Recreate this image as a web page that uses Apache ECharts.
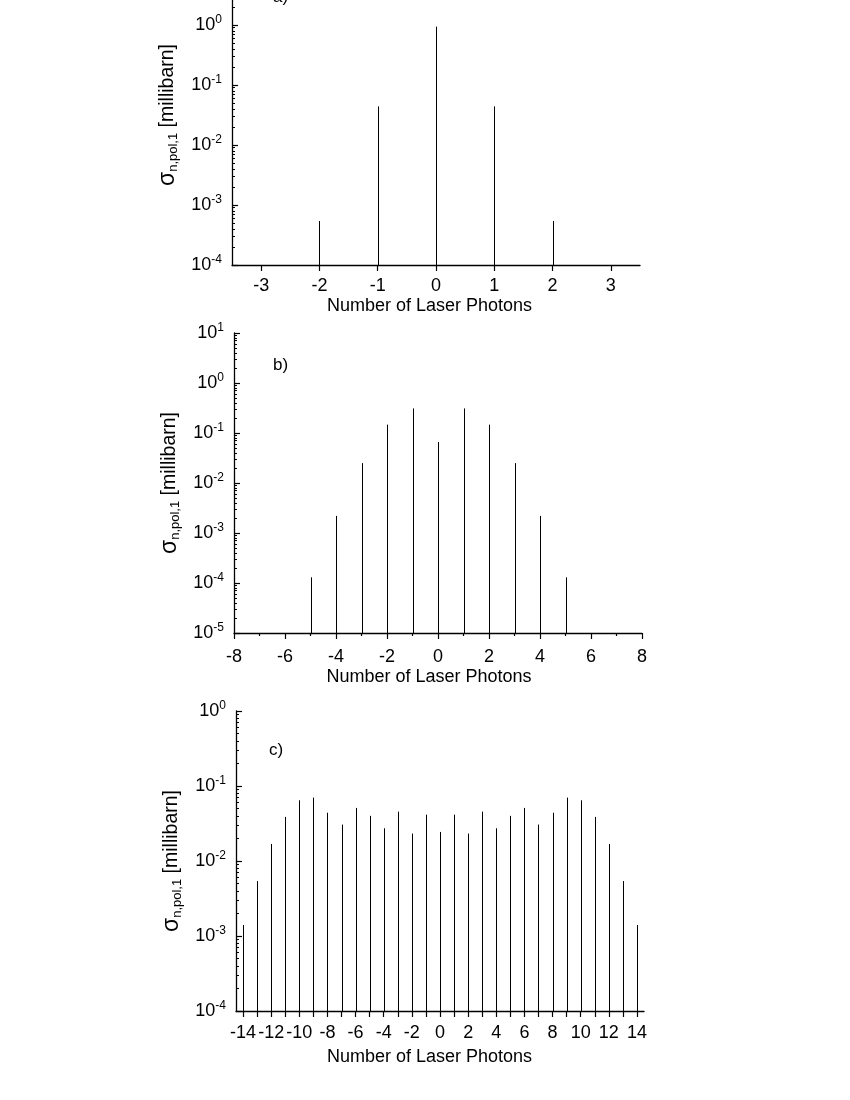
<!DOCTYPE html>
<html>
<head>
<meta charset="utf-8">
<script src="https://cdn.jsdelivr.net/npm/echarts@6/dist/echarts.min.js"></script>
<style>
  html, body { margin: 0; padding: 0; background: #fff; }
  #main { width: 850px; height: 1100px; }
</style>
</head>
<body>
<div id="main"></div>
<script>
// panel a)
var photonsA = [-2, -1, 0, 1, 2];
var sigmaA = [5.4e-4, 0.044, 0.94, 0.044, 5.4e-4];
var ticksA = [-3, -2, -1, 0, 1, 2, 3];

// panel b)
var photonsB = [-5, -4, -3, -2, -1, 0, 1, 2, 3, 4, 5];
var sigmaB = [1.3e-4, 2.2e-3, 0.025, 0.147, 0.31, 0.066, 0.31, 0.147, 0.025, 2.2e-3, 1.3e-4];

// panel c)
var photonsC = [-14, -13, -12, -11, -10, -9, -8, -7, -6, -5, -4, -3, -2, -1, 0,
                1, 2, 3, 4, 5, 6, 7, 8, 9, 10, 11, 12, 13, 14];
var sigmaC = [1.4e-3, 5.4e-3, 0.0169, 0.0387, 0.0645, 0.070, 0.044, 0.0306, 0.051, 0.040, 0.0273, 0.0455, 0.0232, 0.0415, 0.0244,
              0.0415, 0.0232, 0.0455, 0.0273, 0.040, 0.051, 0.0306, 0.044, 0.070, 0.0645, 0.0387, 0.0169, 0.0054, 1.4e-3];
var ticksC = [-14, -13, -12, -11, -10, -9, -8, -7, -6, -5, -4, -3, -2, -1, 0,
              1, 2, 3, 4, 5, 6, 7, 8, 9, 10, 11, 12, 13, 14];
var labelsC = [-14, -12, -10, -8, -6, -4, -2, 0, 2, 4, 6, 8, 10, 12, 14];

var yRanges = [[1e-4, 10], [1e-5, 10], [1e-4, 1]];

var FONT = 'Liberation Sans, Arial, sans-serif';
var myChart = echarts.init(document.getElementById('main'));

function minorLogTicks(range) {
    var out = [];
    var lo = Math.round(Math.log10(range[0])), hi = Math.round(Math.log10(range[1]));
    for (var d = lo; d < hi; d++) {
        for (var k = 2; k <= 9; k++) out.push(d + Math.log10(k));
    }
    return out;
}

function xAxisOf(grid, min, max, extra, labelMargin, nameGap, nameShift) {
    var ax = {
        type: 'value', gridIndex: grid, min: min, max: max,
        name: 'Number of Laser Photons', nameLocation: 'middle', nameGap: nameGap,
        nameTextStyle: { fontFamily: FONT, fontSize: 18, color: '#000', padding: [0, nameShift, 0, 0] },
        axisLine: { onZero: false, lineStyle: { color: '#000', width: 1.3 } },
        axisTick: { inside: false, length: 6, lineStyle: { color: '#000', width: 1.2 } },
        axisLabel: { margin: labelMargin, fontFamily: FONT, fontSize: 18, color: '#000' },
        splitLine: { show: false }
    };
    for (var k in extra) {
        if (typeof extra[k] === 'object' && ax[k]) Object.assign(ax[k], extra[k]);
        else ax[k] = extra[k];
    }
    return ax;
}

function yAxisOf(grid, range) {
    return {
        type: 'log', logBase: 10, gridIndex: grid, min: range[0], max: range[1], interval: 1,
        name: '{g|σ}{sub|n,pol,1}{t| [millibarn]}', nameLocation: 'middle', nameGap: 52, nameRotate: 90,
        nameTextStyle: {
            fontFamily: FONT, color: '#000',
            rich: {
                g: { fontFamily: FONT, fontSize: 23, color: '#000' },
                sub: { fontFamily: FONT, fontSize: 13, color: '#000', padding: [11, 0, 0, 0] },
                t: { fontFamily: FONT, fontSize: 19.5, color: '#000' }
            }
        },
        axisLine: { onZero: false, lineStyle: { color: '#000', width: 1.3 } },
        axisTick: { inside: true, length: 6, lineStyle: { color: '#000', width: 1.2 } },
        axisLabel: {
            margin: 10, fontFamily: FONT, color: '#000',
            formatter: function (v) {
                return '{b|10}{s|' + Math.round(Math.log10(v)) + '}';
            },
            rich: {
                b: { fontFamily: FONT, fontSize: 18, color: '#000' },
                s: { fontFamily: FONT, fontSize: 12, color: '#000', padding: [0, 0, 11, 0] }
            }
        },
        splitLine: { show: false }
    };
}

function minorYAxisOf(grid, range) {
    return {
        type: 'value', gridIndex: grid, position: 'left',
        min: Math.log10(range[0]), max: Math.log10(range[1]),
        axisLine: { show: false, onZero: false },
        axisLabel: { show: false },
        axisTick: { show: true, inside: true, length: 3, customValues: minorLogTicks(range),
                    lineStyle: { color: '#000', width: 1 } },
        splitLine: { show: false }
    };
}

function stickSeries(idx, xs, ys, base) {
    return {
        type: 'custom', xAxisIndex: idx, yAxisIndex: idx, silent: true, animation: false,
        data: xs.map(function (x, i) { return [x, ys[i]]; }),
        renderItem: function (params, api) {
            var top = api.coord([api.value(0), api.value(1)]);
            var bot = api.coord([api.value(0), base]);
            var x = Math.round(top[0]) + 0.5;
            return {
                type: 'line',
                shape: { x1: x, y1: bot[1], x2: x, y2: top[1] },
                style: { stroke: '#000', lineWidth: 1 }
            };
        }
    };
}

var option = {
    backgroundColor: '#fff',
    animation: false,
    grid: [
        { left: 232, top: -35, width: 408, height: 300, outerBoundsMode: 'none' },
        { left: 234, top: 333, width: 408, height: 300, outerBoundsMode: 'none' },
        { left: 236, top: 711, width: 408, height: 300, outerBoundsMode: 'none' }
    ],
    xAxis: [
        xAxisOf(0, -3.5, 3.5, { axisTick: { customValues: ticksA }, axisLabel: { customValues: ticksA } }, 12, 32, 13),
        xAxisOf(1, -8, 8, { interval: 2, minorTick: { show: true, splitNumber: 2, length: 3, lineStyle: { color: '#000', width: 1.2 } } }, 15, 35, 18),
        xAxisOf(2, -14.5, 14.5, { axisTick: { customValues: ticksC }, axisLabel: { customValues: labelsC } }, 13, 37, 21)
    ],
    yAxis: [
        yAxisOf(0, yRanges[0]),
        yAxisOf(1, yRanges[1]),
        yAxisOf(2, yRanges[2]),
        minorYAxisOf(0, yRanges[0]),
        minorYAxisOf(1, yRanges[1]),
        minorYAxisOf(2, yRanges[2])
    ],
    series: [
        stickSeries(0, photonsA, sigmaA, yRanges[0][0]),
        stickSeries(1, photonsB, sigmaB, yRanges[1][0]),
        stickSeries(2, photonsC, sigmaC, yRanges[2][0])
    ],
    graphic: [
        { type: 'text', left: 273, top: -11, style: { text: 'a)', font: '17px ' + FONT, fill: '#000' } },
        { type: 'text', left: 273, top: 357, style: { text: 'b)', font: '17px ' + FONT, fill: '#000' } },
        { type: 'text', left: 269, top: 742, style: { text: 'c)', font: '17px ' + FONT, fill: '#000' } }
    ]
};
myChart.setOption(option);
</script>
</body>
</html>
